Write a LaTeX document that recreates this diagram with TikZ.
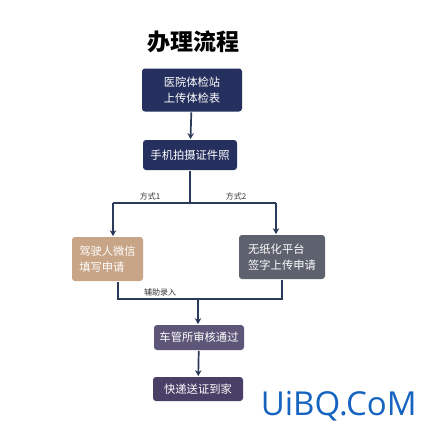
\documentclass[tikz,border=0pt]{standalone}
\usepackage{fontspec}
\setmainfont{Noto Sans CJK SC}
\newfontfamily\markfont{Open Sans}
\usetikzlibrary{arrows.meta}
\definecolor{navy}{HTML}{26305E}
\definecolor{linecol}{HTML}{2C3A5A}
\definecolor{tan}{HTML}{C8A586}
\definecolor{slate}{HTML}{5E616E}
\definecolor{plum}{HTML}{5D5678}
\definecolor{grape}{HTML}{4A3F66}
\definecolor{markblue}{HTML}{1763C0}
\tikzset{xy/.style={x={#1},y={-#1},line width=1.7pt}}
\tikzset{box/.style={rounded corners=3pt,inner sep=0pt,text=white,align=center,font={\fontsize{11.3}{15.5}\selectfont}}}
\tikzset{tag/.style={font={\fontsize{8}{9}\selectfont},text=black!80}}
\tikzset{link/.style={draw=linecol}}
\tikzset{arrow/.style={link,-{Stealth[length=6pt,width=6.5pt]}}}

\begin{document}
\begin{tikzpicture}[xy=1pt]%
    \path [use as bounding box,fill=white] (0,0) rectangle (430,429);
    % title
    \path (193,42) node (title) {\fontsize{23}{26}\selectfont\bfseries 办理流程};
    % steps
    \path (192,90) node [box,fill=navy,minimum width=100pt,minimum height=43pt] (station) {医院体检站\\上传体检表};
    \path (190,155) node [box,fill=navy,minimum width=94pt,minimum height=30pt] (photo) {手机拍摄证件照};
    \path (107.5,259) node [box,fill=tan,minimum width=71pt,minimum height=44pt,align=left] (wechat) {驾驶人微信\\填写申请};
    \path (282,257) node [box,fill=slate,minimum width=86pt,minimum height=44pt,align=left] (paperless) {无纸化平台\\签字上传申请};
    \path (199,337.5) node [box,fill=plum,minimum width=90pt,minimum height=25pt] (review) {车管所审核通过};
    \path (198,389) node [box,fill=grape,minimum width=90pt,minimum height=24pt] (deliver) {快递送证到家};
    % junctions
    \coordinate (fork) at (190,203);
    \coordinate (forkl) at (113,203);
    \coordinate (forkr) at (276,203);
    \coordinate (joinl) at (118,299);
    \coordinate (joinr) at (282,299);
    \coordinate (join) at (198,299);
    % connectors
    \path [arrow] (station) -- (photo);
    \path [link] (photo) -- (fork);
    \path [link] (forkl) -- (forkr);
    \path [arrow] (forkl) -- (forkl |- wechat.north);
    \path [arrow] (forkr) -- (forkr |- paperless.north);
    \path [link] (joinl |- wechat.south) -- (joinl) -- (joinr) -- (paperless.south);
    \path [arrow] (join) -- (join |- review.north);
    \path [arrow] (review) -- (deliver);
    % labels
    \path (150,196) node [tag] (way1) {方式1};
    \path (236,196) node [tag] (way2) {方式2};
    \path (160,292) node [tag] (assist) {辅助录入};
    % watermark
    \path (260,415) node [anchor=base west,inner sep=0pt,text=markblue,font={\markfont\fontsize{33}{36}\selectfont}] (mark) {UiBQ.CoM};
\end{tikzpicture}
\end{document}
